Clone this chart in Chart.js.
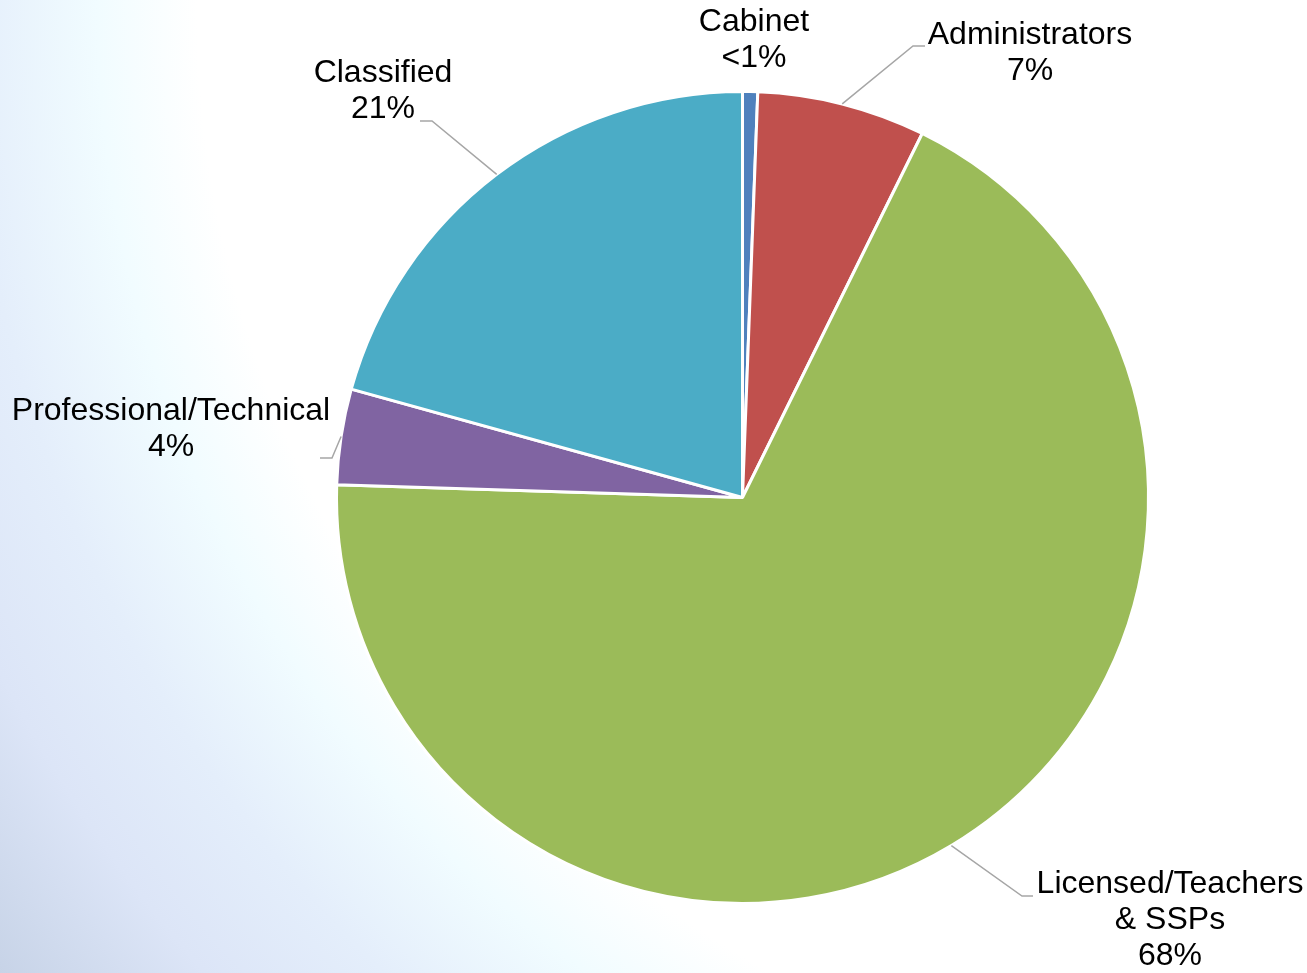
<!DOCTYPE html>
<html>
<head>
<meta charset="utf-8">
<script src="https://cdn.jsdelivr.net/npm/chart.js@4/dist/chart.umd.min.js"></script>
<style>
  html, body { margin: 0; padding: 0; }
  body {
    width: 1307px; height: 973px; overflow: hidden;
    background: radial-gradient(circle at 100% 0%,
      #ffffff 0px, #ffffff 1110px, #f1fcff 1210px, #e4eefb 1340px,
      #dce5f7 1470px, #c7d3e7 1630px);
  }
  #wrap { position: absolute; left: 0; top: 0; width: 1307px; height: 973px; }
</style>
</head>
<body>
<div id="wrap"><canvas id="staffPie" width="1307" height="973"></canvas></div>
<script>
// Staff composition by employee group (share of total, %)
const categories = ["Cabinet", "Administrators", "Licensed/Teachers\n& SSPs", "Professional/Technical", "Classified"];
const shares = [0.6, 6.7, 68.2, 3.8, 20.7];
const sliceColors = ["#4f81bd", "#c0504d", "#9bbb59", "#8064a2", "#4bacc6"];

// Where each label sits (centre of first text line) and its leader line elbow
const labelLayout = [
  { x: 754,  y: 22,  elbow: null },
  { x: 1030, y: 35,  elbow: [913, 46],  end: [925, 46] },
  { x: 1170, y: 884, elbow: [1022, 896], end: [1033, 896] },
  { x: 171,  y: 411, elbow: [332, 458],  end: [320, 458] },
  { x: 383,  y: 73,  elbow: [432, 121],  end: [420, 121] }
];

function pctText(v, total) {
  const p = v / total * 100;
  return p < 1 ? "<1%" : Math.round(p) + "%";
}

const sliceLabels = {
  id: "sliceLabels",
  afterDatasetsDraw(chart) {
    const ctx = chart.ctx;
    const meta = chart.getDatasetMeta(0);
    const data = chart.data.datasets[0].data;
    const total = data.reduce((a, b) => a + b, 0);
    ctx.save();
    meta.data.forEach((arc, i) => {
      const p = arc.getProps(["x", "y", "startAngle", "endAngle", "outerRadius"], true);
      const mid = (p.startAngle + p.endAngle) / 2;
      const ex = p.x + Math.cos(mid) * p.outerRadius;
      const ey = p.y + Math.sin(mid) * p.outerRadius;
      const lay = labelLayout[i];
      if (lay.elbow) {
        ctx.strokeStyle = "#a6a6a6";
        ctx.lineWidth = 1.5;
        ctx.beginPath();
        ctx.moveTo(ex, ey);
        ctx.lineTo(lay.elbow[0], lay.elbow[1]);
        ctx.lineTo(lay.end[0], lay.end[1]);
        ctx.stroke();
      }
      const lines = chart.data.labels[i].split("\n").concat([pctText(data[i], total)]);
      ctx.fillStyle = "#000000";
      ctx.font = "32px 'Liberation Sans', Arial, sans-serif";
      ctx.textAlign = "center";
      ctx.textBaseline = "middle";
      lines.forEach((t, k) => ctx.fillText(t, lay.x, lay.y + k * 36));
    });
    ctx.restore();
  }
};

new Chart(document.getElementById("staffPie"), {
  type: "pie",
  data: {
    labels: categories,
    datasets: [{
      data: shares,
      backgroundColor: sliceColors,
      borderColor: "#ffffff",
      borderWidth: 3
    }]
  },
  options: {
    responsive: false,
    maintainAspectRatio: false,
    animation: false,
    layout: { padding: { left: 335, right: 157, top: 90, bottom: 68 } },
    plugins: {
      legend: { display: false },
      tooltip: { enabled: false }
    }
  },
  plugins: [sliceLabels]
});
</script>
</body>
</html>
